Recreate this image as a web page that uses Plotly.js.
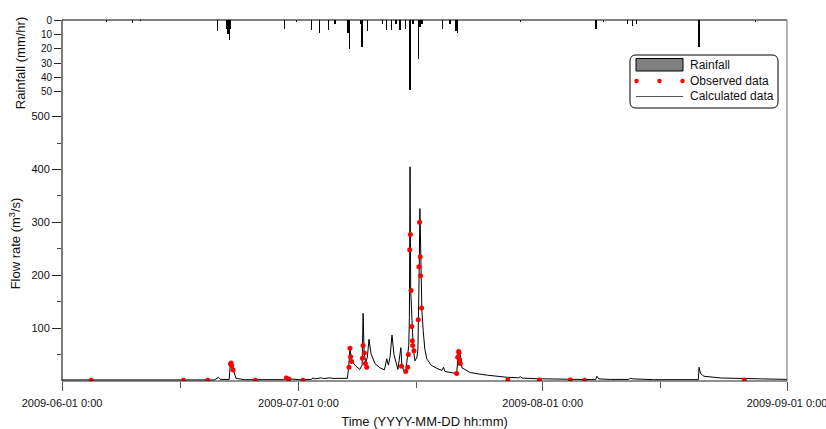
<!DOCTYPE html>
<html>
<head>
<meta charset="utf-8">
<script src="https://cdn.plot.ly/plotly-3.0.1.min.js"></script>
<style>html,body{margin:0;padding:0;background:#fff;}#chart{width:826px;height:429px;}</style>
</head>
<body>
<div id="chart"></div>
<script>
// ---- Data ----
const rainTimes = ['2009-06-06 15:00','2009-06-09 22:00','2009-06-11 00:00','2009-06-20 18:00','2009-06-21 22:00','2009-06-22 02:00','2009-06-22 06:00','2009-06-22 10:00','2009-06-29 06:00','2009-06-30 18:00','2009-07-02 16:00','2009-07-03 17:00','2009-07-04 20:00','2009-07-05 15:00','2009-07-07 07:00','2009-07-07 12:00','2009-07-08 21:00','2009-07-09 02:00','2009-07-09 18:00','2009-07-11 17:00','2009-07-12 05:00','2009-07-12 20:00','2009-07-13 09:00','2009-07-13 21:00','2009-07-14 14:00','2009-07-15 04:00','2009-07-15 13:00','2009-07-16 05:00','2009-07-16 10:00','2009-07-16 16:00','2009-07-19 06:00','2009-07-20 06:00','2009-07-21 00:00','2009-07-21 05:00','2009-07-29 04:00','2009-08-07 18:00','2009-08-08 18:00','2009-08-11 18:00','2009-08-12 10:00','2009-08-12 22:00','2009-08-20 20:00','2009-08-28 01:00'];
const rainMm = [1.5,2,1,8,6,10,14,6,6,1.5,7,9,7,2.5,9,20,3,19,8,3,7,7,3,7,6,49,3,27,5,3,6,3,8,9,1.5,6,1.5,3,4,2.5,18.5,1.5];

const obsTimes = ['2009-06-04 17:00','2009-06-16 10:00','2009-06-19 12:00','2009-06-22 09:00','2009-06-22 11:00','2009-06-22 13:00','2009-06-22 17:00','2009-06-25 13:00','2009-06-29 11:00','2009-06-29 19:00','2009-07-01 14:00','2009-07-07 10:00','2009-07-07 13:00','2009-07-07 15:00','2009-07-07 18:00','2009-07-09 03:00','2009-07-09 05:00','2009-07-09 09:00','2009-07-09 12:00','2009-07-09 16:00','2009-07-14 02:00','2009-07-14 15:00','2009-07-14 21:00','2009-07-14 23:00','2009-07-15 03:00','2009-07-15 05:00','2009-07-15 07:00','2009-07-15 09:00','2009-07-15 11:00','2009-07-15 12:00','2009-07-15 16:00','2009-07-16 05:00','2009-07-16 07:00','2009-07-16 09:00','2009-07-16 11:00','2009-07-16 12:00','2009-07-16 15:00','2009-07-21 02:00','2009-07-21 05:00','2009-07-21 08:00','2009-07-21 09:00','2009-07-21 11:00','2009-07-21 13:00','2009-07-27 14:00','2009-07-31 14:00','2009-08-04 12:00','2009-08-06 08:00','2009-08-26 14:00'];
const obsFlow = [1.5,1.5,1.5,32,34,29,21,1.5,5.6,4,1.5,26,62,46,37,43,67,53,33,26,28,18,26,50,248,277,171,103,76,67,57,116,216,300,235,199,138,14,45,56,53,40,33,2.5,2,2,1.5,2];

const calcTimes = ['2009-06-01 00:00','2009-06-20 08:00','2009-06-20 21:00','2009-06-21 02:00','2009-06-22 05:00','2009-06-22 09:00','2009-06-22 14:00','2009-06-22 18:00','2009-06-23 02:00','2009-06-24 04:00','2009-06-29 03:00','2009-06-29 12:00','2009-06-29 21:00','2009-07-01 04:00','2009-07-02 16:00','2009-07-02 20:00','2009-07-03 02:00','2009-07-03 22:00','2009-07-04 05:00','2009-07-04 23:00','2009-07-05 09:00','2009-07-07 05:00','2009-07-07 09:00','2009-07-07 13:00','2009-07-07 18:00','2009-07-08 07:00','2009-07-08 19:00','2009-07-09 02:00','2009-07-09 05:00','2009-07-09 08:00','2009-07-09 13:00','2009-07-09 18:00','2009-07-09 23:00','2009-07-10 05:00','2009-07-10 17:00','2009-07-11 08:00','2009-07-11 22:00','2009-07-12 05:00','2009-07-12 10:00','2009-07-12 15:00','2009-07-12 21:00','2009-07-13 03:00','2009-07-13 15:00','2009-07-14 00:00','2009-07-14 03:00','2009-07-14 09:00','2009-07-14 15:00','2009-07-14 22:00','2009-07-15 00:00','2009-07-15 02:00','2009-07-15 04:00','2009-07-15 06:00','2009-07-15 10:00','2009-07-15 11:00','2009-07-15 14:00','2009-07-15 19:00','2009-07-16 01:00','2009-07-16 04:00','2009-07-16 06:00','2009-07-16 08:00','2009-07-16 10:00','2009-07-16 11:00','2009-07-16 12:00','2009-07-16 13:00','2009-07-16 16:00','2009-07-16 20:00','2009-07-17 01:00','2009-07-17 07:00','2009-07-17 20:00','2009-07-18 13:00','2009-07-19 05:00','2009-07-19 10:00','2009-07-19 14:00','2009-07-21 02:00','2009-07-21 06:00','2009-07-21 10:00','2009-07-21 13:00','2009-07-21 18:00','2009-07-22 19:00','2009-07-24 01:00','2009-07-24 23:00','2009-07-27 12:00','2009-07-28 22:00','2009-07-29 04:00','2009-07-29 10:00','2009-07-31 07:00','2009-08-04 12:00','2009-08-07 17:00','2009-08-07 21:00','2009-08-08 03:00','2009-08-09 14:00','2009-08-11 21:00','2009-08-12 03:00','2009-08-12 12:00','2009-08-15 02:00','2009-08-20 18:00','2009-08-20 20:00','2009-08-21 01:00','2009-08-21 11:00','2009-08-23 14:00','2009-08-28 19:00','2009-09-01 00:00'];
const calcFlow = [2,2,7,3,3,35,31,20,5,2.5,2.5,9,4,2.5,3,6,4,6,4.5,6,5,5,25,62,38,28,22,30,128,55,35,45,79,52,33,25,21,42,30,45,87,50,22,63,30,19,18,50,67,120,405,171,103,76,59,38,45,60,116,216,326,300,235,199,135,95,60,42,30,24,20,26,18,14,45,56,50,25,16,13,11,7,6,8,5.5,4.3,3,2.5,9,4,3,3,5,4,2.5,2.5,26,14,9,5.7,4,3];

const monthTicks = ['2009-06-01','2009-07-01','2009-08-01','2009-09-01'];
const monthLabels = ['2009-06-01 0:00','2009-07-01 0:00','2009-08-01 0:00','2009-09-01 0:00'];
const midMonthTicks = ['2009-06-16','2009-07-16','2009-08-16'];
const flowTicks = [100,200,300,400,500];
const flowMinor = [50,150,250,350,450];
const rainTicks = [0,10,20,30,40,50];

// ---- Geometry helpers (pixel -> paper) ----
const W = 826, H = 429, L = 62, R = 787, T = 20, B = 381;
const px = x => (x - L) / (R - L);
const py = y => (B - y) / (B - T);
const splitY = py(106);

const FONT = 'Liberation Sans, Arial, sans-serif';

const traces = [
  {type:'bar', x: rainTimes, y: rainMm, xaxis:'x', yaxis:'y2', width: 4*3600*1000,
   marker:{color:'#000', line:{width:0}}, name:'Rainfall', showlegend:false, hoverinfo:'x+y'},
  {type:'scatter', mode:'lines', x: calcTimes, y: calcFlow, xaxis:'x', yaxis:'y',
   line:{color:'#000', width:1}, name:'Calculated data', showlegend:false},
  {type:'scatter', mode:'markers', x: obsTimes, y: obsFlow, xaxis:'x', yaxis:'y',
   marker:{color:'#ff0000', size:5}, name:'Observed data', showlegend:false}
];

// rounded legend box path
function roundRect(x0,y0,x1,y1,r){
  const rx = r/(R-L), ry = r/(B-T);
  const a=px(x0), b=px(x1), top=py(y0), bot=py(y1);
  return `M ${a+rx},${top} L ${b-rx},${top} Q ${b},${top} ${b},${top-ry} L ${b},${bot+ry} Q ${b},${bot} ${b-rx},${bot} L ${a+rx},${bot} Q ${a},${bot} ${a},${bot+ry} L ${a},${top-ry} Q ${a},${top} ${a+rx},${top} Z`;
}

const shapes = [
  // frame
  {type:'line', xref:'paper', yref:'paper', x0:0, x1:1, y0:1, y1:1, line:{color:'#000', width:1.2}},
  {type:'line', xref:'paper', yref:'paper', x0:1, x1:1, y0:0, y1:1, line:{color:'#666', width:1}},
  {type:'line', xref:'paper', yref:'paper', x0:0, x1:0, y0:0, y1:1, line:{color:'#222', width:1.2}},
  {type:'line', xref:'paper', yref:'paper', x0:0, x1:1, y0:0, y1:0, line:{color:'#222', width:1.2}},
  // legend
  {type:'path', xref:'paper', yref:'paper', path: roundRect(630,55,778,108,6), fillcolor:'#fff', line:{color:'#000', width:1}},
  {type:'rect', xref:'paper', yref:'paper', x0:px(636), x1:px(683), y0:py(58.5), y1:py(71), fillcolor:'#808080', line:{color:'#000', width:1}},
  {type:'line', xref:'paper', yref:'paper', x0:px(636), x1:px(683), y0:py(96.5), y1:py(96.5), line:{color:'#555', width:1.2}}
];
[636.5, 659.5, 682.5].forEach(cx => {
  shapes.push({type:'circle', xref:'paper', yref:'paper', x0:px(cx-2.2), x1:px(cx+2.2), y0:py(81+2.2), y1:py(81-2.2), fillcolor:'#ff0000', line:{width:0}});
});

const legendTexts = [['Rainfall',65],['Observed data',81],['Calculated data',96.5]];
const annotations = legendTexts.map(([t,y]) => ({
  text:t, xref:'paper', yref:'paper', x:px(688), y:py(y), xanchor:'left', yanchor:'middle',
  showarrow:false, font:{family:FONT, size:12, color:'#111'}
}));

const layout = {
  width: W, height: H,
  margin:{l:L, r:W-R, t:T, b:H-B, pad:0},
  paper_bgcolor:'#fff', plot_bgcolor:'rgba(0,0,0,0)',
  showlegend:false,
  bargap:0,
  xaxis:{
    type:'date', range:['2009-06-01','2009-09-01'], anchor:'y',
    tickmode:'array', tickvals: monthTicks, ticktext: monthLabels,
    ticks:'outside', ticklen:9, tickwidth:1, tickcolor:'#555',
    ticklabeloverflow:'allow', ticklabelstandoff:3,
    minor:{tickmode:'array', tickvals: midMonthTicks, ticks:'outside', ticklen:6, tickwidth:1, tickcolor:'#555', showgrid:false},
    showgrid:false, zeroline:false, showline:false,
    tickfont:{family:FONT, size:11, color:'#111'},
    title:{text:'Time (YYYY-MM-DD hh:mm)', font:{family:FONT, size:13, color:'#111'}, standoff:8}
  },
  yaxis:{
    domain:[0, splitY], range:[0, 520], anchor:'x',
    tickmode:'array', tickvals: flowTicks,
    ticks:'outside', ticklen:9, tickwidth:1, tickcolor:'#222',
    minor:{tickmode:'array', tickvals: flowMinor, ticks:'outside', ticklen:4, tickwidth:1, tickcolor:'#444', showgrid:false},
    showgrid:false, zeroline:false, showline:false,
    tickfont:{family:FONT, size:11, color:'#111'},
    title:{text:'Flow rate (m<sup>3</sup>/s)', font:{family:FONT, size:13, color:'#111'}, standoff:7}
  },
  yaxis2:{
    domain:[splitY, 1], range:[60, 0], anchor:'x',
    tickmode:'array', tickvals: rainTicks,
    ticks:'outside', ticklen:7, tickwidth:1, tickcolor:'#222',
    showgrid:false, zeroline:false, showline:false,
    tickfont:{family:FONT, size:10, color:'#111'},
    title:{text:'Rainfall (mm/hr)', font:{family:FONT, size:13, color:'#111'}, standoff:12}
  },
  shapes, annotations
};

Plotly.newPlot('chart', traces, layout, {displayModeBar:false, staticPlot:true});
</script>
</body>
</html>
